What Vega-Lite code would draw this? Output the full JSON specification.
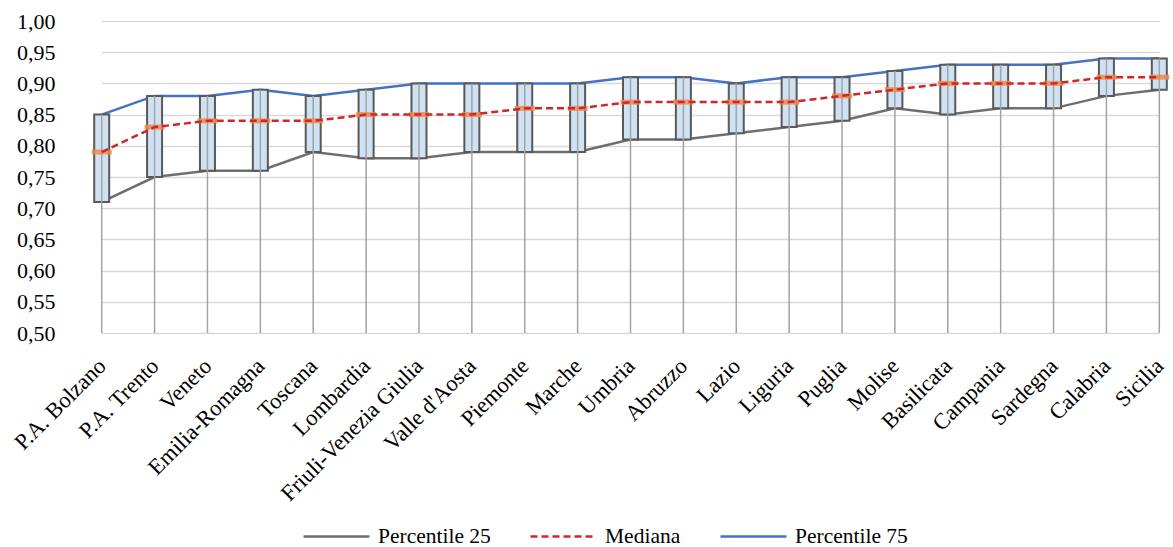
{
  "$schema": "https://vega.github.io/schema/vega-lite/v6.json",
  "width": 1098,
  "height": 312,
  "autosize": {"type": "none"},
  "padding": {"left": 75, "top": 21, "right": 0, "bottom": 214},
  "background": "white",
  "config": {
    "view": {"stroke": null},
    "font": "Liberation Serif",
    "axis": {"labelFont": "Liberation Serif"},
    "axisY": {"domain": false, "ticks": false, "grid": true, "gridColor": "#d9d9d9", "gridWidth": 1.5, "labelFont": "Liberation Serif", "labelFontSize": 22, "labelColor": "#000000", "labelPadding": 20, "title": null},
    "axisX": {"domain": false, "ticks": false, "grid": false, "labelAngle": -45, "labelBaseline": "middle", "labelAlign": "right", "labelLimit": 0, "labelFont": "Liberation Serif", "labelFontSize": 22.5, "labelColor": "#000000", "labelPadding": 29, "title": null},
    "legend": {"labelFont": "Liberation Serif", "labelFontSize": 21.5, "labelColor": "#000000"}
  },
  "data": {
    "values": [
      {"regione": "P.A. Bolzano", "Percentile 25": 0.71, "Mediana": 0.79, "Percentile 75": 0.85},
      {"regione": "P.A. Trento", "Percentile 25": 0.75, "Mediana": 0.83, "Percentile 75": 0.88},
      {"regione": "Veneto", "Percentile 25": 0.76, "Mediana": 0.84, "Percentile 75": 0.88},
      {"regione": "Emilia-Romagna", "Percentile 25": 0.76, "Mediana": 0.84, "Percentile 75": 0.89},
      {"regione": "Toscana", "Percentile 25": 0.79, "Mediana": 0.84, "Percentile 75": 0.88},
      {"regione": "Lombardia", "Percentile 25": 0.78, "Mediana": 0.85, "Percentile 75": 0.89},
      {"regione": "Friuli-Venezia Giulia", "Percentile 25": 0.78, "Mediana": 0.85, "Percentile 75": 0.90},
      {"regione": "Valle d'Aosta", "Percentile 25": 0.79, "Mediana": 0.85, "Percentile 75": 0.90},
      {"regione": "Piemonte", "Percentile 25": 0.79, "Mediana": 0.86, "Percentile 75": 0.90},
      {"regione": "Marche", "Percentile 25": 0.79, "Mediana": 0.86, "Percentile 75": 0.90},
      {"regione": "Umbria", "Percentile 25": 0.81, "Mediana": 0.87, "Percentile 75": 0.91},
      {"regione": "Abruzzo", "Percentile 25": 0.81, "Mediana": 0.87, "Percentile 75": 0.91},
      {"regione": "Lazio", "Percentile 25": 0.82, "Mediana": 0.87, "Percentile 75": 0.90},
      {"regione": "Liguria", "Percentile 25": 0.83, "Mediana": 0.87, "Percentile 75": 0.91},
      {"regione": "Puglia", "Percentile 25": 0.84, "Mediana": 0.88, "Percentile 75": 0.91},
      {"regione": "Molise", "Percentile 25": 0.86, "Mediana": 0.89, "Percentile 75": 0.92},
      {"regione": "Basilicata", "Percentile 25": 0.85, "Mediana": 0.90, "Percentile 75": 0.93},
      {"regione": "Campania", "Percentile 25": 0.86, "Mediana": 0.90, "Percentile 75": 0.93},
      {"regione": "Sardegna", "Percentile 25": 0.86, "Mediana": 0.90, "Percentile 75": 0.93},
      {"regione": "Calabria", "Percentile 25": 0.88, "Mediana": 0.91, "Percentile 75": 0.94},
      {"regione": "Sicilia", "Percentile 25": 0.89, "Mediana": 0.91, "Percentile 75": 0.94}
    ]
  },
  "layer": [
    {
      "transform": [{"fold": ["Percentile 25", "Mediana", "Percentile 75"], "as": ["serie", "valore"]}],
      "mark": {"type": "line", "strokeWidth": 2.5},
      "encoding": {
        "x": {"field": "regione", "type": "nominal", "sort": null, "title": null, "scale": {"type": "point", "range": [26.7, 1084.3], "padding": 0}, "axis": {"labelFont": "Liberation Serif"}},
        "y": {"field": "valore", "type": "quantitative", "title": null, "scale": {"domain": [0.5, 1.0], "nice": false, "zero": false}, "axis": {"values": [0.5, 0.55, 0.6, 0.65, 0.7, 0.75, 0.8, 0.85, 0.9, 0.95, 1.0], "labelFont": "Liberation Serif", "labelExpr": "replace(format(datum.value, '.2f'), '.', ',')"}},
        "strokeOpacity": {"condition": {"test": "datum.serie === 'Mediana'", "value": 0}, "value": 1},
        "color": {"field": "serie", "type": "nominal", "sort": ["Percentile 25", "Mediana", "Percentile 75"], "scale": {"domain": ["Percentile 25", "Mediana", "Percentile 75"], "range": ["#6e6e6e", "#d0262b", "#4472c4"]}, "legend": {"title": null, "orient": "none", "direction": "horizontal", "legendX": 227, "legendY": 481, "labelFont": "Liberation Serif", "symbolType": "stroke", "symbolSize": 4356, "symbolStrokeWidth": 2.5, "labelOffset": 7, "columnPadding": 34, "padding": 0, "encode": {"symbols": {"update": {"strokeDash": {"signal": "datum.value === 'Mediana' ? [7, 4] : [1, 0]"}, "strokeOpacity": {"value": 1}}}}}}
      }
    },
    {
      "mark": {"type": "bar", "width": 15, "fill": "#cfe2f3", "stroke": "#595959", "strokeWidth": 2},
      "encoding": {
        "x": {"field": "regione", "type": "nominal", "sort": null},
        "y": {"field": "Percentile 25", "type": "quantitative", "axis": {"values": [0.5, 0.55, 0.6, 0.65, 0.7, 0.75, 0.8, 0.85, 0.9, 0.95, 1.0], "labelFont": "Liberation Serif", "labelExpr": "replace(format(datum.value, '.2f'), '.', ',')"}},
        "y2": {"field": "Percentile 75"}
      }
    },
    {
      "mark": {"type": "rule", "color": "#a3a3a3", "strokeWidth": 1.5},
      "encoding": {
        "x": {"field": "regione", "type": "nominal", "sort": null},
        "y": {"field": "Percentile 75", "type": "quantitative", "axis": {"values": [0.5, 0.55, 0.6, 0.65, 0.7, 0.75, 0.8, 0.85, 0.9, 0.95, 1.0], "labelFont": "Liberation Serif", "labelExpr": "replace(format(datum.value, '.2f'), '.', ',')"}},
        "y2": {"datum": 0.5}
      }
    },
    {
      "mark": {"type": "tick", "color": "#f0884a", "opacity": 0.85, "thickness": 5, "size": 20},
      "encoding": {
        "x": {"field": "regione", "type": "nominal", "sort": null},
        "y": {"field": "Mediana", "type": "quantitative", "axis": {"values": [0.5, 0.55, 0.6, 0.65, 0.7, 0.75, 0.8, 0.85, 0.9, 0.95, 1.0], "labelFont": "Liberation Serif", "labelExpr": "replace(format(datum.value, '.2f'), '.', ',')"}}
      }
    },
    {
      "mark": {"type": "line", "color": "#d0262b", "strokeWidth": 2.5, "strokeDash": [7, 4]},
      "encoding": {
        "x": {"field": "regione", "type": "nominal", "sort": null},
        "y": {"field": "Mediana", "type": "quantitative", "axis": {"values": [0.5, 0.55, 0.6, 0.65, 0.7, 0.75, 0.8, 0.85, 0.9, 0.95, 1.0], "labelFont": "Liberation Serif", "labelExpr": "replace(format(datum.value, '.2f'), '.', ',')"}}
      }
    }
  ]
}
